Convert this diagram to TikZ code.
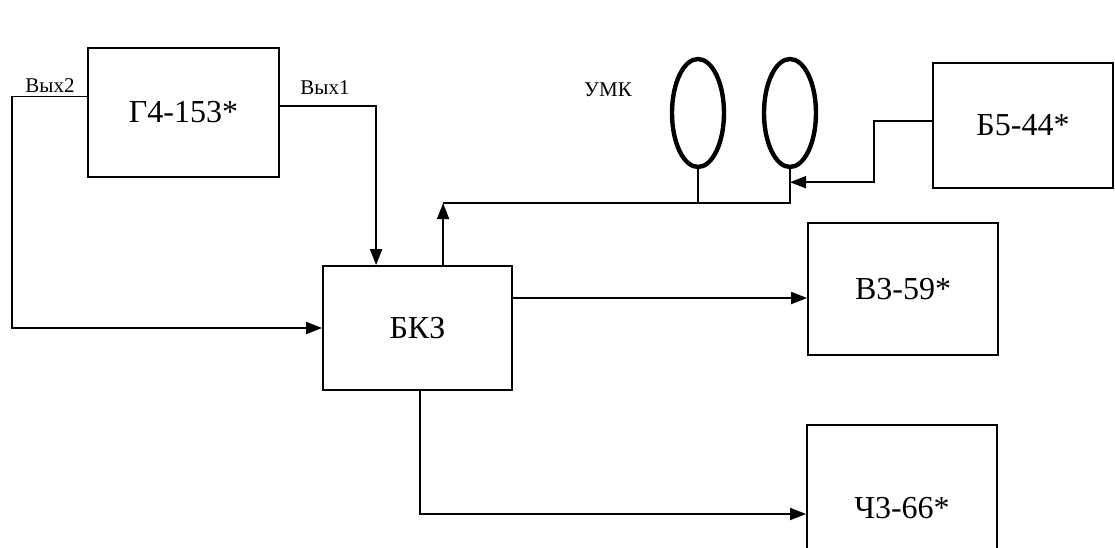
\documentclass[tikz,border=0pt]{standalone}
\usepackage{fontspec}
\setmainfont{Liberation Serif}
\usetikzlibrary{shapes.geometric,arrows.meta}
\tikzset{
  blok/.style={draw,line width=0.9pt,font=\fontsize{16}{18}\selectfont,inner sep=0pt},
  vyh/.style={font=\fontsize{10.5}{12}\selectfont},
  kolco/.style={draw,ellipse,line width=2.2pt,minimum width=26pt,minimum height=54pt,inner sep=0pt},
  svyaz/.style={line width=0.9pt,-{Triangle[length=8pt,width=6pt]}}
}
\begin{document}
\begin{tikzpicture}[x=0.5pt,y=-0.5pt]
    \clip (0,0) rectangle (1115,547);
    %% blocks
    \node[blok,minimum width=95.5pt,minimum height=64.5pt] (g4) at (183.5,112.5) {Г4-153*};
    \node[blok,minimum width=94.5pt,minimum height=62pt] (bkz) at (417.5,328) {БКЗ};
    \node[blok,minimum width=90pt,minimum height=62.5pt] (b5) at (1023,125.5) {Б5-44*};
    \node[blok,minimum width=95pt,minimum height=66pt] (v3) at (903,289) {В3-59*};
    \node[blok,minimum width=95pt,minimum height=89pt,text depth=6pt] (ch3) at (902,514) {Ч3-66*};
    %% coils
    \node[kolco] (kl) at (698,113) {};
    \node[kolco] (kr) at (790,113) {};
    \node[vyh] (umk) at (608,90) {УМК};
    %% outputs of the generator
    \node[vyh] (vyh2) at (50,86) {Вых2};
    \node[vyh] (vyh1) at (325,88) {Вых1};
    \draw[svyaz] ([yshift=8pt]g4.west) -- ++(-37.5pt,0) |- (bkz.west);
    \draw[svyaz] ([yshift=3.25pt]g4.east) -| ([xshift=27pt]bkz.north west);
    %% bus to the coils
    \coordinate (bus) at ([xshift=60.5pt,yshift=31pt]bkz.north west);
    \draw[svyaz] ([xshift=60.5pt]bkz.north west) -- (bus);
    \draw[line width=0.9pt] (bus) -| (kr.south);
    \draw[line width=0.9pt] (kl.south) -- (kl.south |- bus);
    \draw[svyaz] ([yshift=2.25pt]b5.west) -- ++(-29pt,0) |- ([yshift=-6.5pt]kr.south);
    %% measuring outputs
    \coordinate (bkzout) at ([yshift=15pt]bkz.east);
    \draw[svyaz] (bkzout) -- (bkzout -| v3.west);
    \draw[svyaz] ([xshift=49pt]bkz.south west) |- (ch3.west);
\end{tikzpicture}
\end{document}
